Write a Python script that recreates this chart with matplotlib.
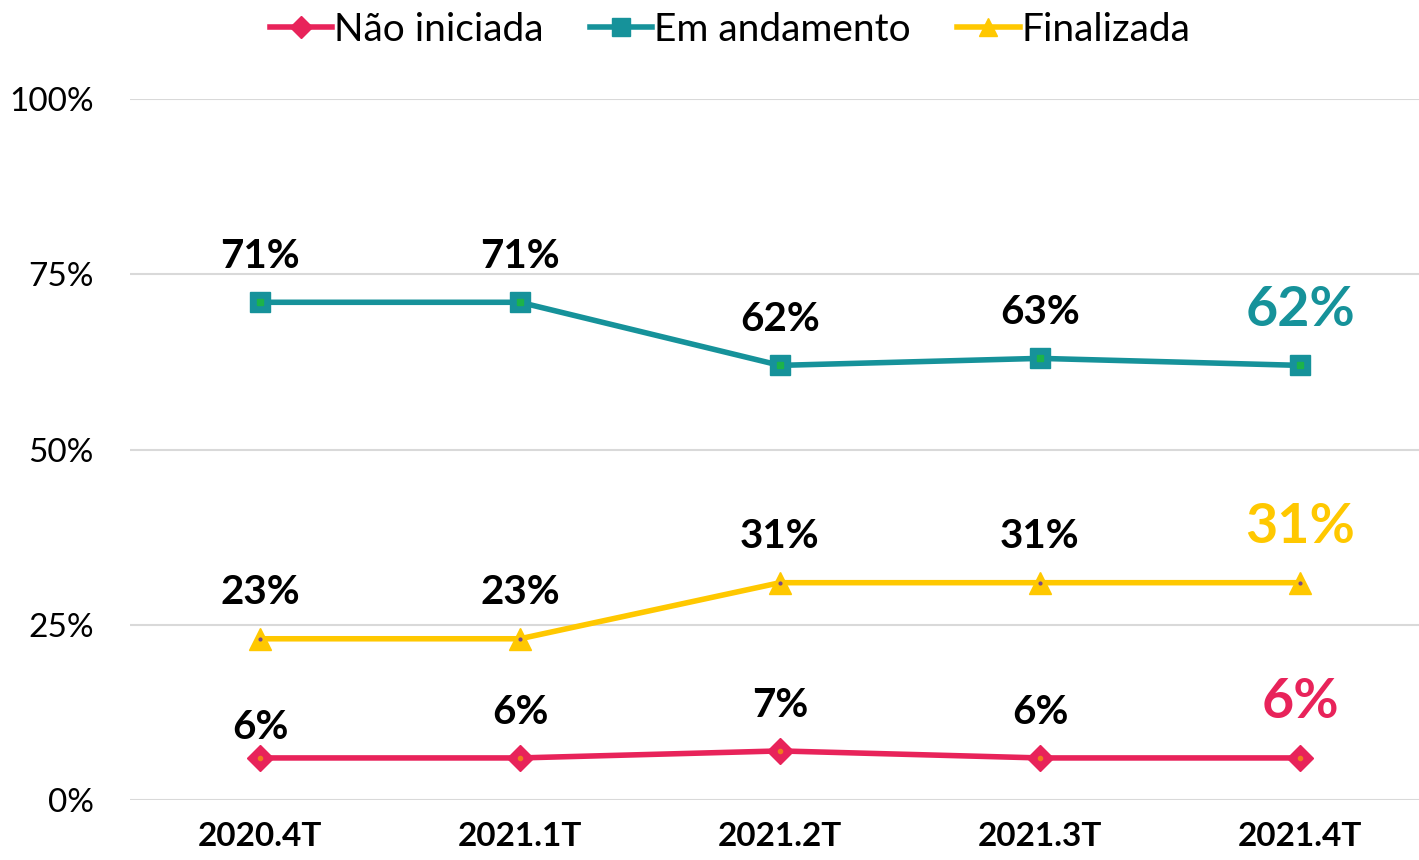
import matplotlib.pyplot as plt
from matplotlib.ticker import PercentFormatter

plt.rcParams['font.family'] = ['Lato', 'DejaVu Sans']

quarters = ["2020.4T", "2021.1T", "2021.2T", "2021.3T", "2021.4T"]
nao_iniciada = [6, 6, 7, 6, 6]
em_andamento = [71, 71, 62, 63, 62]
finalizada = [23, 23, 31, 31, 31]

pink = "#E8235A"
teal = "#16929A"
yellow = "#FFC800"

fig = plt.figure(figsize=(14.19, 8.6), dpi=100)
ax = fig.add_axes([130 / 1419, 60 / 860, 1 - 130 / 1419, 701 / 860])

x = list(range(len(quarters)))
l1, = ax.plot(x, nao_iniciada, '-D', color=pink, lw=4, ms=13,
              mfc=pink, mec=pink, label="Não iniciada")
l2, = ax.plot(x, em_andamento, '-s', color=teal, lw=4, ms=15,
              mfc=teal, mec=teal, label="Em andamento")
l3, = ax.plot(x, finalizada, '-^', color=yellow, lw=4, ms=16,
              mfc=yellow, mec=yellow, label="Finalizada")
# little centre dots inside the markers
ax.plot(x, nao_iniciada, 'o', color="#F07A1E", ms=3, ls='none')
ax.plot(x, em_andamento, 's', color="#1DB34A", ms=4, ls='none')
ax.plot(x, finalizada, 'o', color="#7A4A8A", ms=2, ls='none')

series = [(nao_iniciada, pink), (em_andamento, teal), (finalizada, yellow)]
for vals, col in series:
    for i, v in enumerate(vals):
        off = 33
        if vals is nao_iniciada and i == 0:
            off = 22
        if i == len(vals) - 1:
            ax.annotate(f"{v}%", (i, v), xytext=(0, 40), textcoords='offset points',
                        ha='center', va='center', fontsize=40, fontweight='bold',
                        color=col)
        else:
            ax.annotate(f"{v}%", (i, v), xytext=(0, off), textcoords='offset points',
                        ha='center', va='center', fontsize=29, fontweight='bold',
                        color='black')

ax.set_xlim(-0.5, 4.5 - 11 / 260)
ax.set_ylim(0, 100)
ax.set_yticks([0, 25, 50, 75, 100])
ax.yaxis.set_major_formatter(PercentFormatter(decimals=0))
ax.set_xticks(x)
ax.set_xticklabels(quarters, fontweight='bold')
ax.tick_params(axis='y', labelsize=24, length=0, pad=26)
ax.tick_params(axis='x', labelsize=24, length=0, pad=16)
ax.grid(axis='y', color='#D9D9D9', lw=1.5)
ax.set_axisbelow(True)
for s in ax.spines.values():
    s.set_visible(False)

fig.legend(handles=[l1, l2, l3], loc='center', bbox_to_anchor=(730 / 1419, 1 - 30 / 860),
           ncol=3, frameon=False, fontsize=28, handlelength=1.6, handletextpad=0.05,
           columnspacing=1.2, markerscale=0.85)

fig.savefig("out.png", dpi=100)
